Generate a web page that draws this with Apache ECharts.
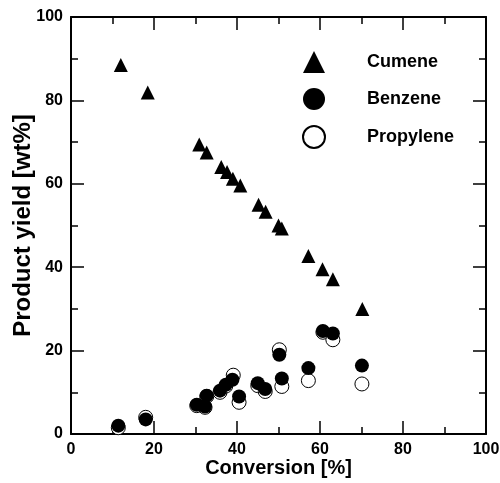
<!DOCTYPE html>
<html><head><meta charset="utf-8">
<script src="https://cdn.jsdelivr.net/npm/echarts@6/dist/echarts.min.js"></script>
<style>html,body{margin:0;padding:0;background:#fff}#c{width:500px;height:483px}</style>
</head><body><div id="c"></div>
<script>
var FONT = 'Liberation Sans, Arial, Helvetica, sans-serif';
var xTicks = [0, 20, 40, 60, 80, 100];
var yTicks = [0, 20, 40, 60, 80, 100];
var cumeneX = [12.0, 18.5, 30.9, 32.7, 36.2, 37.6, 39.0, 40.8, 45.2, 46.9, 50.0, 50.8, 57.2, 60.6, 63.1, 70.2];
var cumeneY = [88.5, 81.9, 69.4, 67.5, 64.0, 62.8, 61.2, 59.6, 55.0, 53.3, 50.0, 49.3, 42.7, 39.5, 37.1, 30.0];
var benzeneX = [11.4, 18.0, 30.3, 32.3, 32.7, 35.9, 37.3, 38.9, 40.5, 45.0, 46.8, 50.2, 50.8, 57.2, 60.7, 63.1, 70.1];
var benzeneY = [2.0, 3.5, 7.0, 6.6, 9.2, 10.4, 11.8, 13.0, 9.0, 12.2, 10.8, 19.0, 13.3, 15.8, 24.7, 24.1, 16.4];
var propyleneX = [11.4, 18.0, 30.3, 32.3, 32.7, 35.9, 37.3, 39.1, 40.5, 45.0, 46.8, 50.2, 50.8, 57.2, 60.7, 63.1, 70.1];
var propyleneY = [1.5, 4.0, 6.8, 6.4, 9.0, 10.0, 11.5, 14.1, 7.6, 11.6, 10.2, 20.2, 11.4, 12.8, 24.4, 22.6, 12.0];

function pts(xs, ys) { return xs.map(function (x, i) { return [x, ys[i]]; }); }

function mkAxis(pos, showLabel, extra) {
  var a = {
    type: 'value', position: pos, min: xTicks[0], max: xTicks[xTicks.length - 1], interval: 20,
    nameMoveOverlap: false,
    axisLine: { show: true, onZero: false, lineStyle: { color: '#000', width: 2 } },
    axisTick: { show: true, inside: true, length: 13, lineStyle: { color: '#000', width: 1.5 } },
    minorTick: { show: true, splitNumber: 2, length: 7, lineStyle: { color: '#000', width: 1.5 } },
    splitLine: { show: false },
    axisLabel: { show: showLabel, color: '#000', fontFamily: FONT, fontWeight: 'bold', fontSize: 16, margin: 8 }
  };
  for (var k in extra) a[k] = extra[k];
  return a;
}

var chart = echarts.init(document.getElementById('c'));
chart.setOption({
  animation: false,
  backgroundColor: '#fff',
  grid: { left: 71, right: 14, top: 17, bottom: 49, containLabel: false, outerBoundsMode: 'none' },
  legend: {
    orient: 'vertical', left: 302, top: 51, padding: 0, itemWidth: 22, itemHeight: 22, itemGap: 15,
    textStyle: { color: '#000', fontFamily: FONT, fontWeight: 'bold', fontSize: 18, padding: [0, 0, 0, 37] },
    data: [{ name: 'Cumene', icon: 'triangle' }, { name: 'Benzene', icon: 'circle' }, { name: 'Propylene', icon: 'circle' }]
  },
  xAxis: [
    mkAxis('bottom', true, {
      name: 'Conversion [%]', nameLocation: 'middle', nameGap: 24,
      nameTextStyle: { color: '#000', fontFamily: FONT, fontWeight: 'bold', fontSize: 20 }
    }),
    mkAxis('top', false, {})
  ],
  yAxis: [
    mkAxis('left', true, {
      name: 'Product yield [wt%]', nameLocation: 'middle', nameGap: 36,
      nameTextStyle: { color: '#000', fontFamily: FONT, fontWeight: 'bold', fontSize: 24 }
    }),
    mkAxis('right', false, {})
  ],
  series: [
    { name: 'Cumene', type: 'scatter', symbol: 'triangle', symbolSize: 14, z: 3,
      itemStyle: { color: '#000', opacity: 1 }, data: pts(cumeneX, cumeneY) },
    { name: 'Propylene', type: 'scatter', symbol: 'circle', symbolSize: 14, z: 2,
      itemStyle: { color: '#fff', borderColor: '#000', borderWidth: 1, opacity: 1 }, data: pts(propyleneX, propyleneY) },
    { name: 'Benzene', type: 'scatter', symbol: 'circle', symbolSize: 14, z: 3,
      itemStyle: { color: '#000', opacity: 1 }, data: pts(benzeneX, benzeneY) }
  ]
});
</script></body></html>
